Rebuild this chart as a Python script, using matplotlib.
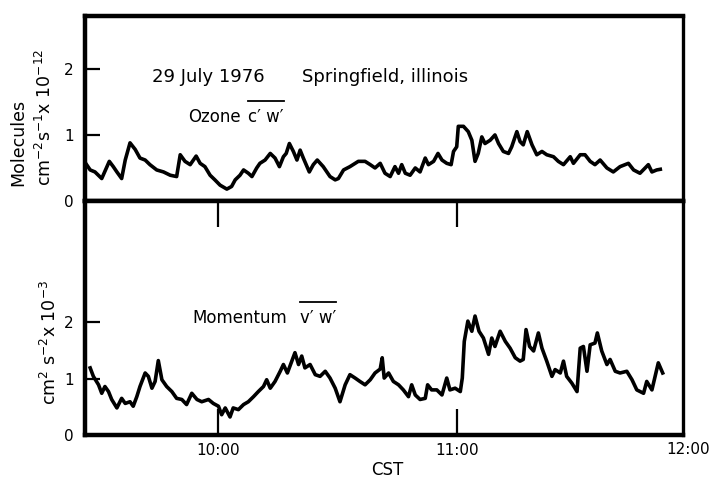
import matplotlib
matplotlib.use("Agg")
import matplotlib.pyplot as plt
from matplotlib.lines import Line2D

plt.rcParams['font.family'] = ['DejaVu Sans']
plt.rcParams['mathtext.default'] = 'regular'

# time in minutes after 09:00 CST
ozone_t = [27.0, 27.9, 29.1, 30.8, 32.7, 33.7, 34.6, 35.8, 36.7, 37.9, 39.2, 40.4, 41.7, 42.9,
           44.6, 46.3, 48.0, 49.6, 50.5, 51.7, 53.0, 54.5, 55.5, 56.7, 58.0, 59.2, 60.5, 62.2,
           63.4, 64.3, 65.5, 66.4, 67.6, 68.5, 69.7, 70.5, 71.8, 73.1, 74.3, 75.4, 76.4, 77.1,
           77.9, 78.9, 79.8, 80.6, 81.4, 82.9, 83.9, 84.9, 86.4, 88.1, 89.4, 90.2, 91.5, 93.1,
           95.2, 96.9, 98.2, 99.4, 100.7, 101.9, 103.2, 104.4, 105.3, 106.1, 107.0, 108.2, 109.5,
           110.7, 112.0, 112.8, 114.1, 115.2, 116.2, 117.4, 118.5, 119.1, 119.9, 120.3, 121.6,
           122.8, 123.7, 124.5, 125.3, 126.2, 127.0, 128.3, 129.5, 130.4, 131.6, 132.9, 133.7,
           135.0, 135.8, 136.6, 137.6, 138.8, 140.0, 141.3, 142.5, 144.2, 145.4, 146.7, 148.4,
           149.2, 150.9, 152.1, 153.4, 154.6, 155.9, 157.6, 159.2, 160.9, 163.0, 164.3, 165.9,
           167.2, 168.0, 168.9, 170.1, 171.0]
ozone_v = [0.55, 0.47, 0.44, 0.34, 0.60, 0.52, 0.44, 0.34, 0.62, 0.88, 0.78, 0.65, 0.62, 0.55,
           0.47, 0.44, 0.39, 0.37, 0.70, 0.60, 0.55, 0.68, 0.57, 0.52, 0.39, 0.32, 0.24, 0.18,
           0.22, 0.32, 0.39, 0.47, 0.42, 0.37, 0.50, 0.57, 0.62, 0.72, 0.65, 0.52, 0.67, 0.72,
           0.87, 0.75, 0.62, 0.77, 0.65, 0.44, 0.55, 0.62, 0.52, 0.37, 0.32, 0.34, 0.47, 0.52,
           0.60, 0.60, 0.55, 0.50, 0.57, 0.42, 0.37, 0.52, 0.42, 0.55, 0.42, 0.39, 0.50,
           0.44, 0.65, 0.55, 0.60, 0.72, 0.62, 0.57, 0.55, 0.75, 0.82, 1.13, 1.13,
           1.05, 0.92, 0.60, 0.72, 0.97, 0.87, 0.92, 1.00, 0.87, 0.75, 0.72, 0.82,
           1.05, 0.90, 0.85, 1.05, 0.85, 0.70, 0.75, 0.70, 0.67, 0.60, 0.55, 0.67,
           0.57, 0.70, 0.70, 0.60, 0.55, 0.62, 0.50, 0.44, 0.52, 0.57, 0.47, 0.42,
           0.50, 0.55, 0.44, 0.47, 0.48]

mom_t = [27.9, 28.7, 30.0, 30.8, 31.6, 32.5, 33.3, 34.6, 35.8, 36.7, 37.9, 38.7, 39.6, 40.4,
         41.7, 42.5, 43.4, 44.2, 45.0, 45.9, 47.1, 48.4, 49.6, 50.9, 52.1, 53.4, 54.7, 55.9,
         57.6, 58.8, 60.1, 60.9, 61.8, 63.0, 63.8, 65.1, 66.4, 67.6, 68.9, 70.1, 71.4, 72.2,
         73.1, 74.3, 75.6, 76.4, 77.4, 78.5, 79.3, 80.2, 81.0, 81.8, 83.1, 84.4, 85.6, 86.9,
         88.1, 89.4, 90.6, 91.9, 93.1, 94.4, 95.6, 96.9, 98.2, 99.4, 100.7, 101.2, 101.7, 102.8,
         104.0, 105.3, 106.5, 107.8, 108.6, 109.5, 110.7, 112.0, 112.6, 113.6, 114.9, 116.2,
         117.4, 118.2, 119.5, 120.8, 121.3, 121.8, 122.7, 123.7, 124.5, 125.5, 126.6, 127.9,
         128.7, 129.5, 130.8, 132.1, 133.3, 134.6, 135.8, 136.6, 137.3, 138.2, 139.2, 140.4,
         141.3, 142.5, 143.8, 144.6, 145.9, 146.7, 147.5, 148.8, 150.1, 150.9, 151.7, 152.6,
         153.4, 154.6, 155.2, 156.3, 157.6, 158.4, 159.7, 160.9, 162.6, 163.9, 165.1, 166.8,
         167.6, 168.9, 169.7, 170.5, 171.6]
mom_v = [1.19, 1.04, 0.89, 0.74, 0.86, 0.77, 0.63, 0.48, 0.65, 0.56, 0.59, 0.51, 0.68, 0.86,
         1.10, 1.04, 0.83, 0.95, 1.32, 0.98, 0.86, 0.77, 0.65, 0.63, 0.54, 0.74, 0.63, 0.59,
         0.63, 0.56, 0.51, 0.36, 0.48, 0.32, 0.48, 0.45, 0.54, 0.59, 0.68, 0.77, 0.86, 0.98,
         0.83, 0.95, 1.13, 1.25, 1.10, 1.31, 1.46, 1.25, 1.40, 1.19, 1.25, 1.07, 1.04, 1.13,
         1.01, 0.83, 0.59, 0.89, 1.07, 1.01, 0.95, 0.89, 0.98, 1.10, 1.17, 1.37, 1.01, 1.10,
         0.95, 0.89, 0.80, 0.68, 0.89, 0.71, 0.63, 0.65, 0.89, 0.80, 0.80, 0.71,
         1.01, 0.80, 0.83, 0.77, 1.01, 1.66, 2.02, 1.84, 2.11, 1.84, 1.72, 1.43,
         1.72, 1.57, 1.84, 1.66, 1.54, 1.37, 1.31, 1.34, 1.87, 1.57, 1.49, 1.81,
         1.54, 1.31, 1.04, 1.16, 1.10, 1.31, 1.04, 0.92, 0.77, 1.54, 1.57, 1.13,
         1.60, 1.63, 1.81, 1.49, 1.25, 1.34, 1.13, 1.10, 1.13, 0.98, 0.80, 0.74,
         0.95, 0.80, 1.04, 1.28, 1.10]

hour_ticks = [60, 120]
hour_labels = ['10:00', '11:00']

W, H = 711, 478


def px(x, y):
    return x / W, 1 - y / H


fig = plt.figure(figsize=(7.11, 4.78), dpi=100)
ax_top = fig.add_axes([85 / W, 1 - 201 / H, 598 / W, 185 / H])
ax_bot = fig.add_axes([85 / W, 1 - 435 / H, 598 / W, 234 / H])

ax_top.plot(ozone_t, ozone_v, color='black', lw=2.6)
ax_bot.plot(mom_t, mom_v, color='black', lw=2.6)

for ax in (ax_top, ax_bot):
    ax.set_xlim(26.6, 176.7)
    for s in ax.spines.values():
        s.set_linewidth(3.2)
    ax.spines['right'].set_linewidth(2.4)
    ax.tick_params(axis='y', direction='in', length=11, width=1.6, pad=8, labelsize=11)

ax_top.set_ylim(0, 2.8)
ax_top.set_yticks([0, 1, 2])
ax_top.set_xticks([])

ax_bot.set_ylim(0, 4.15)
ax_bot.set_yticks([0, 1, 2])
ax_bot.set_xticks(hour_ticks)
ax_bot.set_xticklabels(hour_labels)
ax_bot.tick_params(axis='x', direction='in', top=True, bottom=True, length=19,
                   width=1.6, pad=6, labelsize=11)
fig.text(*px(688, 442), '12:00', fontsize=11, ha='center', va='top')

fig.text(*px(152, 82), '29 July 1976', fontsize=13, va='baseline')
fig.text(*px(302, 82), 'Springfield, illinois', fontsize=13, va='baseline')
fig.text(*px(188, 122), 'Ozone', fontsize=12, va='baseline')
fig.text(*px(192, 323), 'Momentum', fontsize=12, va='baseline')
cw = fig.text(*px(248, 122), "c\u2032 w\u2032", fontsize=12, va='baseline')
vw = fig.text(*px(300, 323), "v\u2032 w\u2032", fontsize=12, va='baseline')

fig.text(*px(18, 142), 'Molecules', fontsize=12.5, rotation=90, ha='center', va='center')
fig.text(*px(45, 117), r'cm$^{-2}$s$^{-1}$x 10$^{-12}$', fontsize=12.5, rotation=90,
         ha='center', va='center')
fig.text(*px(50, 342), r'cm$^{2}$ s$^{-2}$x 10$^{-3}$', fontsize=12.5, rotation=90,
         ha='center', va='center')
fig.text(*px(387, 470), 'CST', fontsize=12, ha='center', va='center')

# overbars above the covariance symbols, ~21 px over the baseline
fig.canvas.draw()
inv = fig.transFigure.inverted()
for t, base in ((cw, 122), (vw, 323)):
    bb = t.get_window_extent().transformed(inv)
    yb = 1 - (base - 21) / H
    fig.add_artist(Line2D([bb.x0, bb.x1], [yb, yb], color='black', lw=1.3,
                          transform=fig.transFigure))

fig.savefig('out.png', dpi=100)
